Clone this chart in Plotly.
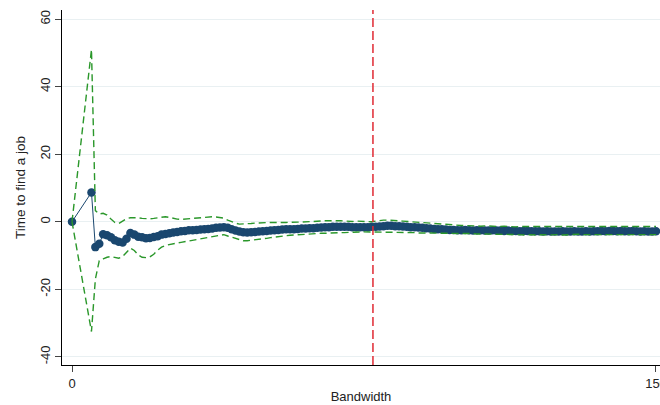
import plotly.graph_objects as go

bandwidth = [0] + list(range(5, 151))

estimate = [
    0.0, 8.7, -7.5, -6.5, -3.7, -4.0, -4.6, -5.5, -5.9, -6.1,            # 0,5..13
    -5.0, -3.3, -3.8, -4.4, -4.6, -4.9, -4.8, -4.5, -4.3, -3.8,          # 14..23
    -3.6, -3.4, -3.2, -3.0, -2.8, -2.7, -2.5, -2.5, -2.4, -2.3,          # 24..33
    -2.2, -2.1, -2.0, -1.8, -1.7, -1.6, -1.8, -2.2, -2.6, -2.9,          # 34..43
    -3.1, -3.2, -3.1, -3.0, -2.9, -2.8, -2.7, -2.6, -2.5, -2.4,          # 44..53
    -2.3, -2.2, -2.2, -2.2, -2.1, -2.0, -2.0, -1.9, -1.9, -1.8,          # 54..63
    -1.7, -1.6, -1.6, -1.5, -1.5, -1.5, -1.5, -1.5, -1.6, -1.6,          # 64..73
    -1.6, -1.6, -1.6, -1.5, -1.5, -1.4, -1.3, -1.2, -1.2, -1.3,          # 74..83
    -1.3, -1.4, -1.5, -1.6, -1.6, -1.7, -1.8, -1.9, -2.0, -2.1,          # 84..93
    -2.2, -2.2, -2.3, -2.4, -2.4, -2.5, -2.5, -2.4, -2.5, -2.6,          # 94..103
    -2.5, -2.5, -2.6, -2.6, -2.5, -2.6, -2.6, -2.7, -2.6, -2.7,          # 104..113
    -2.7, -2.8, -2.7, -2.7, -2.8, -2.8, -2.8, -2.9, -2.8, -2.9,          # 114..123
    -2.9, -2.9, -2.8, -2.9, -2.9, -2.8, -2.9, -2.9, -2.8, -2.9,          # 124..133
    -2.8, -2.8, -2.7, -2.8, -2.7, -2.7, -2.8, -2.7, -2.8, -2.8,          # 134..143
    -2.7, -2.8, -2.9, -2.8, -2.9, -2.9, -2.8,                            # 144..150
]

ci_upper = [
    0.0, 51.0, 3.3, 2.3, 2.5, 2.0, 0.8, -0.2, -0.5, 0.2,
    0.9, 1.2, 1.3, 1.2, 1.0, 0.9, 0.9, 1.0, 1.1, 1.3,
    1.5, 1.3, 1.0, 0.8, 0.7, 0.8, 0.9, 1.0, 1.1, 1.2,
    1.3, 1.5, 1.5, 1.4, 1.3, 1.1, 0.5, 0.0, -0.4, -0.7,
    -0.7, -0.6, -0.5, -0.4, -0.3, -0.2, -0.2, -0.2, -0.2, -0.1,
    -0.2, -0.2, -0.1, -0.2, -0.1, -0.1, 0.0, 0.0, 0.1, 0.2,
    0.3, 0.3, 0.3, 0.2, 0.3, 0.3, 0.2, 0.2, 0.1, 0.2,
    0.1, 0.1, 0.0, 0.0, 0.2, 0.4, 0.5, 0.5, 0.5, 0.4,
    0.3, 0.2, 0.1, 0.0, -0.1, -0.2, -0.2, -0.2, -0.3, -0.4,
    -0.5, -0.6, -0.7, -0.8, -0.9, -1.0, -1.1, -1.1, -1.2, -1.2,
    -1.2, -1.3, -1.2, -1.3, -1.3, -1.4, -1.4, -1.3, -1.4, -1.4,
    -1.5, -1.4, -1.4, -1.5, -1.5, -1.4, -1.5, -1.5, -1.4, -1.5,
    -1.5, -1.5, -1.4, -1.5, -1.5, -1.4, -1.5, -1.4, -1.5, -1.5,
    -1.4, -1.4, -1.3, -1.4, -1.4, -1.3, -1.4, -1.4, -1.3, -1.4,
    -1.4, -1.5, -1.4, -1.5, -1.5, -1.5, -1.4,
]

ci_lower = [
    0.0, -32.5, -17.0, -11.5, -11.0, -10.5, -10.3, -10.6, -10.8, -10.3,
    -9.0, -7.8, -8.5, -9.8, -10.5, -10.6, -10.4, -9.6, -8.4, -7.5,
    -7.0, -6.7, -6.5, -6.3, -6.1, -5.9, -5.7, -5.5, -5.3, -5.1,
    -4.9, -4.7, -4.5, -4.3, -4.1, -3.8, -4.2, -4.6, -5.0, -5.4,
    -5.6, -5.6, -5.5, -5.3, -5.1, -5.0, -4.9, -4.7, -4.5, -4.4,
    -4.3, -4.1, -4.0, -3.9, -3.8, -3.7, -3.6, -3.6, -3.5, -3.5,
    -3.4, -3.4, -3.3, -3.3, -3.2, -3.2, -3.2, -3.1, -3.1, -3.1,
    -3.0, -3.0, -3.0, -3.0, -3.1, -3.1, -3.1, -3.1, -3.1, -3.2,
    -3.2, -3.2, -3.2, -3.2, -3.2, -3.3, -3.3, -3.3, -3.3, -3.3,
    -3.3, -3.3, -3.3, -3.4, -3.4, -3.4, -3.4, -3.5, -3.5, -3.5,
    -3.6, -3.6, -3.6, -3.7, -3.7, -3.7, -3.7, -3.8, -3.7, -3.8,
    -3.8, -3.8, -3.9, -3.8, -3.8, -3.9, -3.8, -3.8, -3.9, -3.8,
    -3.8, -3.8, -3.9, -3.8, -3.8, -3.8, -3.7, -3.8, -3.8, -3.8,
    -3.7, -3.8, -3.8, -3.7, -3.8, -3.8, -3.7, -3.8, -3.8, -3.8,
    -3.8, -3.9, -3.8, -3.8, -3.9, -3.8, -3.8,
]

cutoff = 77.3
x_ticks = [0, 150]
y_ticks = [-40, -20, 0, 20, 40, 60]

NAVY = "#1a476f"
GREEN = "#2a972a"
RED = "#e02a33"
FONT = "Liberation Sans, Arial, sans-serif"

fig = go.Figure()
fig.add_trace(go.Scatter(x=bandwidth, y=estimate, mode="lines+markers",
                         line=dict(color=NAVY, width=1),
                         marker=dict(color=NAVY, size=8.5, symbol="circle"),
                         showlegend=False))
fig.add_trace(go.Scatter(x=bandwidth, y=ci_upper, mode="lines",
                         line=dict(color=GREEN, width=1.4, dash="7px,4px"),
                         hoverinfo="skip", showlegend=False))
fig.add_trace(go.Scatter(x=bandwidth, y=ci_lower, mode="lines",
                         line=dict(color=GREEN, width=1.4, dash="7px,4px"),
                         hoverinfo="skip", showlegend=False))

fig.add_shape(type="line", x0=cutoff, x1=cutoff, xref="x", y0=0, y1=1, yref="paper",
              line=dict(color=RED, width=1.5, dash="9px,4px"))

fig.update_layout(
    width=660, height=405,
    margin=dict(l=62, r=0, t=10, b=40),
    paper_bgcolor="white", plot_bgcolor="white",
    font=dict(family=FONT, size=13, color="#222"),
)
fig.update_xaxes(
    range=[-2.57, 151.03], tickvals=x_ticks, ticktext=[str(v) for v in x_ticks],
    showgrid=False, zeroline=False, showline=True, linecolor="black", linewidth=1,
    ticks="outside", ticklen=6, tickcolor="#444", tickfont=dict(size=13, color="#222"),
    ticklabeloverflow="allow", automargin=False,
    title=dict(text="Bandwidth", font=dict(size=13, color="#222"), standoff=2),
)
fig.update_yaxes(
    range=[-42.4, 62.7], tickvals=y_ticks, ticktext=[str(v) for v in y_ticks],
    showgrid=True, gridcolor="#e9f0f2", gridwidth=1, zeroline=False,
    showline=True, linecolor="black", linewidth=1,
    ticks="outside", ticklen=6, tickcolor="#444", tickangle=-90,
    tickfont=dict(size=13, color="#222"), automargin=False,
    title=dict(text="Time to find a job", font=dict(size=13.5, color="#222"), standoff=9),
)

fig.write_html("out.html", config={"displayModeBar": False},
               post_script="document.body.style.margin='0';document.body.style.overflow='hidden';")
